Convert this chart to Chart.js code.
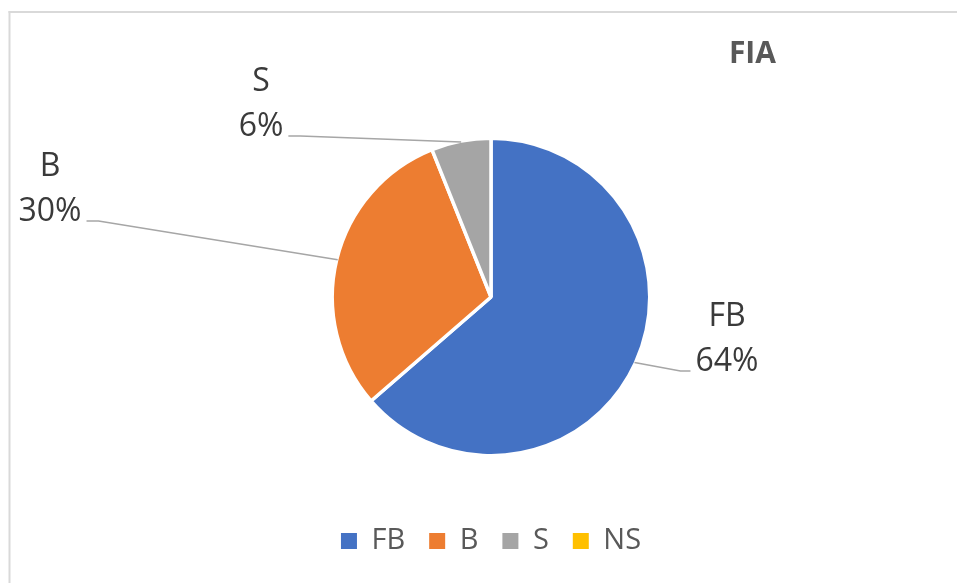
<!DOCTYPE html>
<html>
<head>
<meta charset="utf-8">
<script src="https://cdn.jsdelivr.net/npm/chart.js@4"></script>
<style>
  html, body { margin: 0; padding: 0; background: #fff; }
  #wrap { width: 957px; height: 583px; }
</style>
</head>
<body>
<div id="wrap"><canvas id="fiaChart" width="957" height="583"></canvas></div>
<script>
// --- DATA ---
const categories = ['FB', 'B', 'S', 'NS'];
const counts = [21, 10, 2, 0];
const sliceColors = ['#4472C4', '#ED7D31', '#A5A5A5', '#FFC000'];
const chartTitle = 'FIA';

// where each data label sits, relative to the pie centre
// (x = text centre, y = baseline of the % line)
const labelOffsets = [[236, 74], [-441, -76], [-230, -161], null];

// white background + the light grey frame of the chart box
const chartFrame = {
    id: 'chartFrame',
    beforeDraw(chart) {
        const ctx = chart.ctx;
        ctx.save();
        ctx.fillStyle = '#fff';
        ctx.fillRect(0, 0, chart.width, chart.height);
        ctx.fillStyle = '#d9d9d9';
        ctx.fillRect(8.5, 11, 2, chart.height);
        ctx.fillRect(8.5, 11, chart.width, 2);
        ctx.restore();
    }
};

// "category / percent" labels with leader lines, Excel style
const pieLabels = {
    id: 'pieLabels',
    afterDatasetsDraw(chart) {
        const ctx = chart.ctx;
        const meta = chart.getDatasetMeta(0);
        const total = counts.reduce((a, b) => a + b, 0);
        ctx.save();
        ctx.font = '32px "Open Sans"';
        meta.data.forEach((arc, i) => {
            const off = labelOffsets[i];
            if (!off || !counts[i]) return;
            const p = arc.getProps(['x', 'y', 'startAngle', 'endAngle', 'outerRadius'], true);
            const mid = (p.startAngle + p.endAngle) / 2;
            const ex = p.x + Math.cos(mid) * (p.outerRadius - 1);
            const ey = p.y + Math.sin(mid) * (p.outerRadius - 1);
            const tx = p.x + off[0];
            const ty = p.y + off[1];
            const pct = Math.round(counts[i] / total * 100) + '%';
            const w = ctx.measureText(pct).width;

            let nearX, elbowX;
            if (tx > ex) {
                nearX = tx - w / 2 - 5;
                elbowX = nearX - 10;
            } else {
                nearX = tx + w / 2 + 5;
                elbowX = nearX + 12;
            }
            ctx.strokeStyle = '#a6a6a6';
            ctx.lineWidth = 1.5;
            ctx.beginPath();
            ctx.moveTo(ex, ey);
            ctx.lineTo(elbowX, ty);
            ctx.lineTo(nearX, ty);
            ctx.stroke();

            ctx.fillStyle = '#3a3a3a';
            ctx.textAlign = 'center';
            ctx.textBaseline = 'alphabetic';
            ctx.fillText(categories[i], tx, ty - 45);
            ctx.fillText(pct, tx, ty);
        });
        ctx.restore();
    }
};

const ctx = document.getElementById('fiaChart');
const fiaChart = new Chart(ctx, {
    type: 'pie',
    data: {
        labels: categories,
        datasets: [{
            data: counts,
            backgroundColor: sliceColors,
            borderColor: '#fff',
            borderWidth: 3.5,
            radius: 158.75
        }]
    },
    options: {
        responsive: false,
        animation: false,
        devicePixelRatio: 1,
        layout: { padding: { left: 206, right: 181, top: 0, bottom: 17.5 } },
        plugins: {
            title: {
                display: true,
                text: chartTitle,
                align: 'end',
                color: '#595959',
                font: { family: '"Open Sans"', size: 30, weight: 'bold' },
                padding: { top: 36, bottom: 19.5 }
            },
            legend: {
                position: 'bottom',
                labels: {
                    boxWidth: 16,
                    boxHeight: 16,
                    padding: 24,
                    color: '#595959',
                    font: { family: '"Open Sans"', size: 29 },
                    generateLabels: chart => Chart.overrides.pie.plugins.legend.labels
                        .generateLabels(chart)
                        .map(l => ({ ...l, lineWidth: 0, strokeStyle: l.fillStyle }))
                }
            },
            tooltip: { enabled: false }
        }
    },
    plugins: [chartFrame, pieLabels]
});
</script>
</body>
</html>
